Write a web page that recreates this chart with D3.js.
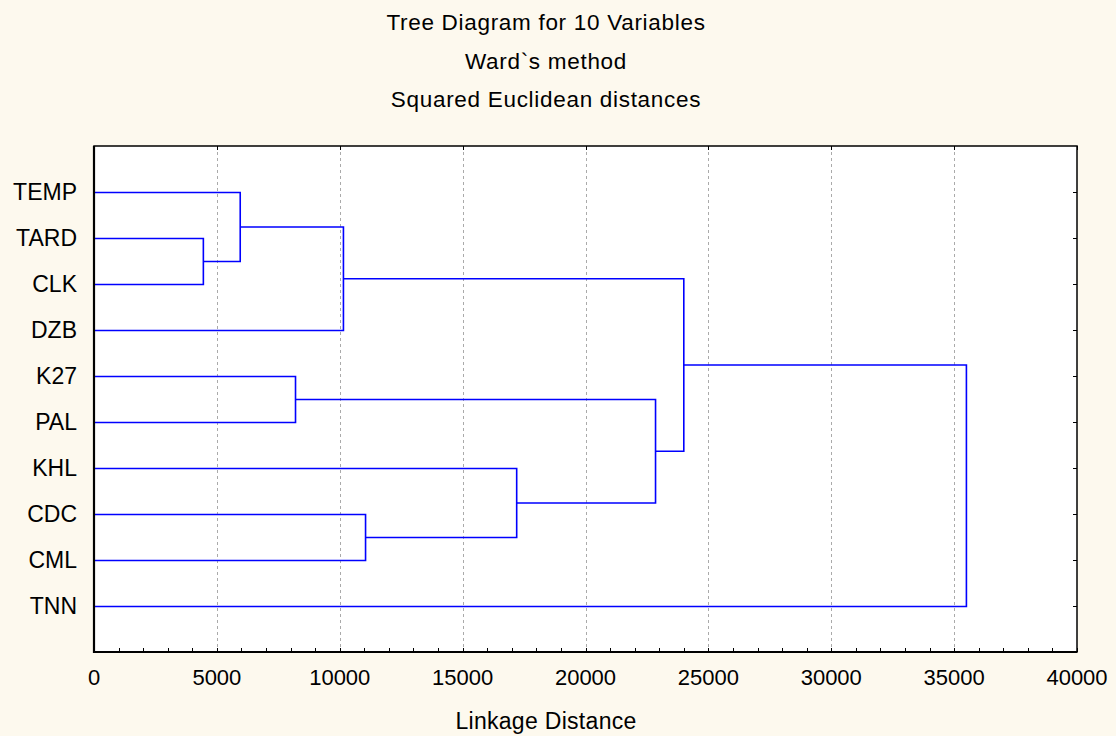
<!DOCTYPE html>
<html>
<head>
<meta charset="utf-8">
<script src="https://cdn.jsdelivr.net/npm/d3@7"></script>
<style>
  body { margin: 0; background: #fdf9ee; }
  svg { display: block; font-family: "Liberation Sans", Arial, sans-serif; }
</style>
</head>
<body>
<div id="chart"></div>
<script>
// Leaves, top to bottom
const leaves = ["TEMP", "TARD", "CLK", "DZB", "K27", "PAL", "KHL", "CDC", "CML", "TNN"];

// Linkage: ids 0-9 are leaves, 10+ are clusters in merge order
const mergeLeft   = [1, 0, 4, 11, 7, 6, 12, 13, 17];
const mergeRight  = [2, 10, 5, 3, 8, 14, 15, 16, 9];
const mergeHeight = [4450, 5950, 8200, 10150, 11050, 17200, 22850, 24000, 35500];

const titleLines = ["Tree Diagram for 10 Variables", "Ward`s method", "Squared Euclidean distances"];
const xTicks = [0, 5000, 10000, 15000, 20000, 25000, 30000, 35000, 40000];

const W = 1116, H = 736;
const margin = { top: 146, right: 39, bottom: 84, left: 94 };
const width = W - margin.left - margin.right;
const height = H - margin.top - margin.bottom;

const svg = d3.select("#chart").append("svg")
  .attr("width", W)
  .attr("height", H);

svg.append("rect").attr("width", W).attr("height", H).attr("fill", "#fdf9ee");

// Titles
svg.selectAll("text.title")
  .data(titleLines)
  .enter().append("text")
    .attr("class", "title")
    .attr("x", 546)
    .attr("y", (d, i) => 30 + i * 38.7)
    .attr("text-anchor", "middle")
    .attr("font-size", 22.5)
    .attr("letter-spacing", 0.7)
    .attr("fill", "#000")
    .text(d => d);

const g = svg.append("g").attr("transform", `translate(${margin.left},${margin.top})`);

g.append("rect").attr("width", width).attr("height", height).attr("fill", "#fff");

const x = d3.scaleLinear().domain([0, 40000]).range([0, width]);
const y = d3.scalePoint().domain(leaves).range([0, height]).padding(1);

// Grid lines
g.selectAll("line.grid")
  .data(xTicks.slice(1, -1))
  .enter().append("line")
    .attr("class", "grid")
    .attr("x1", d => Math.round(x(d)) + 0.5)
    .attr("x2", d => Math.round(x(d)) + 0.5)
    .attr("y1", 0)
    .attr("y2", height)
    .attr("stroke", "#aaa")
    .attr("stroke-dasharray", "3,3");

// Bottom axis: major + minor ticks inward
const minor = d3.range(0, 40001, 1000);
g.selectAll("line.xtick")
  .data(minor)
  .enter().append("line")
    .attr("x1", d => Math.round(x(d)) + 0.5)
    .attr("x2", d => Math.round(x(d)) + 0.5)
    .attr("y1", height)
    .attr("y2", height - 4)
    .attr("stroke", "#000");

g.selectAll("line.xtopTick")
  .data(xTicks)
  .enter().append("line")
    .attr("x1", d => Math.round(x(d)) + 0.5)
    .attr("x2", d => Math.round(x(d)) + 0.5)
    .attr("y1", 0)
    .attr("y2", 4)
    .attr("stroke", "#000");

g.selectAll("text.xlabel")
  .data(xTicks)
  .enter().append("text")
    .attr("x", d => x(d))
    .attr("y", height + 33)
    .attr("text-anchor", "middle")
    .attr("font-size", 22)
    .attr("fill", "#000")
    .text(d => d);

// Y ticks both sides
leaves.forEach(l => {
  const yy = Math.round(y(l)) + 0.5;
  g.append("line").attr("x1", 0).attr("x2", 4).attr("y1", yy).attr("y2", yy).attr("stroke", "#000");
  g.append("line").attr("x1", width).attr("x2", width - 4).attr("y1", yy).attr("y2", yy).attr("stroke", "#000");
});

g.selectAll("text.ylabel")
  .data(leaves)
  .enter().append("text")
    .attr("x", -17)
    .attr("y", d => y(d))
    .attr("dy", "0.35em")
    .attr("text-anchor", "end")
    .attr("font-size", 23)
    .attr("fill", "#000")
    .text(d => d);

// Dendrogram
const nodes = leaves.map(l => ({ x: 0, y: Math.round(y(l)) + 0.5 }));
const links = [];
mergeHeight.forEach((h, i) => {
  const a = nodes[mergeLeft[i]], b = nodes[mergeRight[i]];
  const hx = x(h);
  links.push([[a.x, a.y], [hx, a.y], [hx, b.y], [b.x, b.y]]);
  nodes.push({ x: hx, y: (a.y + b.y) / 2 });
});

g.selectAll("path.link")
  .data(links)
  .enter().append("path")
    .attr("d", d3.line())
    .attr("fill", "none")
    .attr("stroke", "#0000ff")
    .attr("stroke-width", 1.6);

// Frame
g.append("rect")
  .attr("width", width).attr("height", height)
  .attr("fill", "none").attr("stroke", "#000").attr("stroke-width", 1.5);
g.append("line").attr("x1", 0).attr("x2", 0).attr("y1", 0).attr("y2", height + 1)
  .attr("stroke", "#000").attr("stroke-width", 2.2);
g.append("line").attr("x1", -1).attr("x2", width).attr("y1", height).attr("y2", height)
  .attr("stroke", "#000").attr("stroke-width", 2.2);

// Axis title
svg.append("text")
  .attr("x", 546)
  .attr("y", 729)
  .attr("text-anchor", "middle")
  .attr("font-size", 23)
  .attr("letter-spacing", 0.3)
  .attr("fill", "#000")
  .text("Linkage Distance");
</script>
</body>
</html>
